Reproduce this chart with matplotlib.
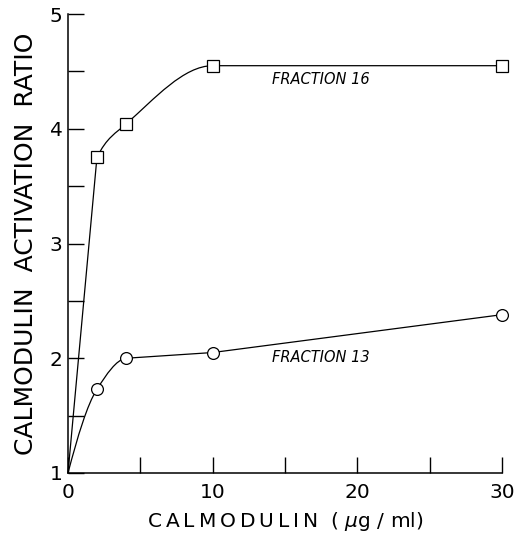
import matplotlib
matplotlib.use('Agg')
import matplotlib.pyplot as plt
from matplotlib.path import Path
from matplotlib.patches import PathPatch
import numpy as np

# data
conc = [0, 2, 4, 10, 30]                     # calmodulin, ug/ml
frac16 = [1.0, 3.75, 4.04, 4.55, 4.55]       # squares
frac13 = [1.0, 1.73, 2.00, 2.05, 2.38]       # circles
labels = ['FRACTION 16', 'FRACTION 13']
xticks_major = [0, 10, 20, 30]
yticks_major = [1, 2, 3, 4, 5]

# which segments of each connecting line are drawn as smooth curves
curve16 = [False, True, True, False]
curve13 = [True, True, False, False]


def slopes(x, y):
    # monotone (pchip style) slopes dy/dx at each point
    h = np.diff(x)
    d = np.diff(y) / h
    n = len(x)
    m = np.zeros(n)
    for k in range(1, n - 1):
        if d[k - 1] * d[k] <= 0:
            m[k] = 0.0
        else:
            w1 = 2 * h[k] + h[k - 1]
            w2 = h[k] + 2 * h[k - 1]
            m[k] = (w1 + w2) / (w1 / d[k - 1] + w2 / d[k])
    m[0] = ((2 * h[0] + h[1]) * d[0] - h[0] * d[1]) / (h[0] + h[1])
    m[-1] = ((2 * h[-1] + h[-2]) * d[-1] - h[-1] * d[-2]) / (h[-1] + h[-2])
    return m


def curve_path(xs, ys, curved):
    x = np.asarray(xs, float)
    y = np.asarray(ys, float)
    m = slopes(x, y)
    verts = [(x[0], y[0])]
    codes = [Path.MOVETO]
    for i in range(len(x) - 1):
        if curved[i]:
            h = (x[i + 1] - x[i]) / 3
            verts += [(x[i] + h, y[i] + m[i] * h),
                      (x[i + 1] - h, y[i + 1] - m[i + 1] * h),
                      (x[i + 1], y[i + 1])]
            codes += [Path.CURVE4] * 3
        else:
            verts.append((x[i + 1], y[i + 1]))
            codes.append(Path.LINETO)
    return Path(verts, codes)


def spaced(s):
    # loose letter spacing like the original lettering
    return '\u2009'.join(s)


fig = plt.figure(figsize=(5.14, 5.41), dpi=100)
ax = fig.add_axes([0.1323, 0.1257, 0.8444, 0.8483])

for ys, curved in [(frac16, curve16), (frac13, curve13)]:
    ax.add_patch(PathPatch(curve_path(conc, ys, curved), facecolor='none',
                           edgecolor='black', lw=0.9, clip_on=False))

ax.plot(conc[1:], frac16[1:], ls='none', marker='s', ms=8.5, mfc='white',
        mec='black', mew=0.9, clip_on=False, zorder=3)
ax.plot(conc[1:], frac13[1:], ls='none', marker='o', ms=8.5, mfc='white',
        mec='black', mew=0.9, clip_on=False, zorder=3)

ax.text(14.1, 4.43, labels[0], style='italic', fontsize=10.5, va='center', ha='left')
ax.text(14.1, 2.01, labels[1], style='italic', fontsize=10.5, va='center', ha='left')

ax.set_xlim(0, 30)
ax.set_ylim(1, 5)
ax.spines['top'].set_visible(False)
ax.spines['right'].set_visible(False)
for s in ['left', 'bottom']:
    ax.spines[s].set_linewidth(1.1)

ax.set_xticks(xticks_major)
ax.set_xticks([5, 15, 25], minor=True)
ax.set_yticks(yticks_major)
ax.set_yticks([1.5, 2.5, 3.5, 4.5], minor=True)
ax.tick_params(axis='both', which='both', direction='in', length=11.5, width=1.0,
               labelsize=14.5)
ax.tick_params(axis='x', which='both', pad=7)
ax.tick_params(axis='y', which='both', pad=4)

ax.set_xlabel(spaced('CALMODULIN') + '  ( $\\mu$g / ml)', fontsize=14.5, labelpad=6)
ax.set_ylabel('CALMODULIN  ACTIVATION  RATIO', fontsize=18, labelpad=8)

fig.savefig('out.png', dpi=100)
